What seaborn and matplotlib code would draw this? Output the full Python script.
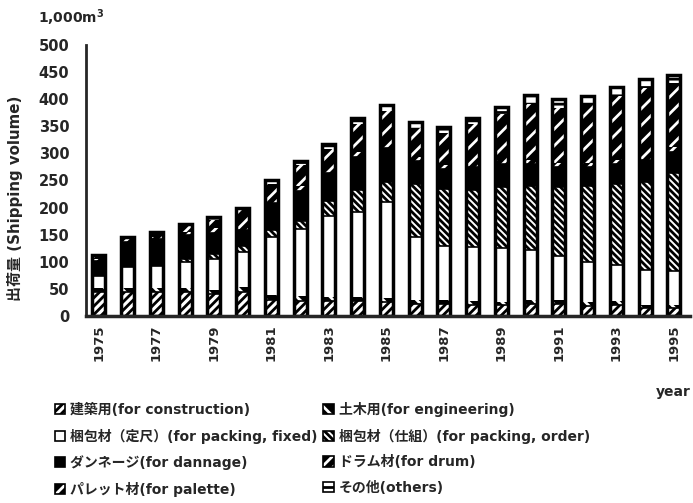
import numpy as np
import pandas as pd
import matplotlib
matplotlib.use('Agg')
import matplotlib.pyplot as plt
import matplotlib.patches as mpatches
from matplotlib.legend_handler import HandlerTuple
import seaborn as sns

# ---------------------------------------------------------
# DATA (1,000 m3)
# ---------------------------------------------------------
years = [str(y) for y in range(1975, 1996)]
construction = [44, 44, 44, 44, 40, 44, 30, 28, 27, 27, 25, 22, 22, 20, 20, 22, 22, 19, 20, 15, 14]
engineering = [8, 8, 8, 8, 8, 10, 9, 8, 8, 8, 8, 8, 8, 7, 6, 8, 8, 7, 8, 6, 6]
packing_fixed = [22, 38, 40, 48, 58, 65, 107, 124, 150, 157, 177, 116, 100, 100, 100, 92, 80, 74, 66, 63, 63]
packing_order = [0, 0, 0, 5, 8, 10, 13, 15, 28, 40, 38, 98, 105, 105, 112, 118, 128, 140, 150, 163, 180]
dannage = [28, 46, 50, 45, 40, 30, 50, 55, 50, 62, 62, 42, 36, 42, 42, 40, 37, 35, 36, 40, 40]
drum = [3, 4, 4, 5, 8, 8, 10, 10, 8, 8, 8, 8, 8, 8, 8, 8, 8, 8, 8, 8, 8]
palette = [4, 4, 6, 12, 15, 28, 25, 38, 38, 52, 60, 52, 58, 72, 84, 104, 101, 108, 118, 125, 118]
others = [3, 2, 3, 3, 6, 5, 7, 8, 9, 12, 12, 12, 11, 12, 14, 16, 16, 15, 16, 17, 15]

labels = ['建築用(for construction)', '土木用(for engineering)',
          '梱包材（定尺）(for packing, fixed)', '梱包材（仕組）(for packing, order)',
          'ダンネージ(for dannage)', 'ドラム材(for drum)',
          'パレット材(for palette)', 'その他(others)']
series = [construction, engineering, packing_fixed, packing_order,
          dannage, drum, palette, others]
# face colour, hatch colour, hatch pattern for each segment
faces = ['white', 'black', 'white', 'white', 'black', 'black', 'black', 'white']
hcols = ['black', 'white', 'black', 'black', 'black', 'white', 'white', 'black']
hatches = ['////', '\\\\', None, '\\\\\\\\\\', None, '///', '//', '--']

# ---------------------------------------------------------
# STYLE
# ---------------------------------------------------------
sns.set_style('white')
plt.rcParams['font.family'] = ['DejaVu Sans', 'Noto Sans CJK JP']
plt.rcParams['font.weight'] = 'bold'
plt.rcParams['hatch.linewidth'] = 2.0

fig = plt.figure(figsize=(6.93, 5.03), dpi=100)
ax = fig.add_axes([86 / 693, 1 - 316 / 503, 604 / 693, 271 / 503])

df = pd.DataFrame(dict(zip(labels, series)), index=years)
cum = df.cumsum(axis=1)

# stacked bars: draw cumulative totals from the top segment down
for lab, fc, hc, h in reversed(list(zip(labels, faces, hcols, hatches))):
    lw = 1.2 if hc == 'black' else 0
    sns.barplot(x=years, y=cum[lab].values, color=fc, saturation=1,
                width=0.45, edgecolor=hc, linewidth=lw, hatch=h, ax=ax)

# heavy outline round each bar
sns.barplot(x=years, y=cum[labels[-1]].values, fill=False, saturation=1,
            width=0.45, edgecolor='black', linewidth=2.5, ax=ax)

ax.set_xlim(-0.45, 20.56)
ax.set_ylim(0, 500)
ax.set_yticks(np.arange(0, 501, 50))
ax.set_xticks(range(len(years)))
ax.set_xticklabels([y if i % 2 == 0 else '' for i, y in enumerate(years)],
                   rotation=90, fontsize=9.5, fontweight='bold')
ax.tick_params(axis='y', direction='in', length=6, width=1.5, pad=12, labelsize=10.5)
ax.tick_params(axis='x', direction='out', length=0, pad=6)
for t in ax.get_yticklabels():
    t.set_fontweight('bold')

sns.despine(ax=ax)
ax.spines['left'].set_linewidth(2)
ax.spines['bottom'].set_linewidth(2.5)

ax.set_ylabel('出荷量 (Shipping volume)', fontsize=10.8, fontweight='bold')
ax.yaxis.set_label_coords(-0.105, 0.435)

fig.text(38 / 693, 1 - 18 / 503, '1,000m$^\\mathbf{3}$', fontsize=10,
         fontweight='bold', va='center', ha='left')
fig.text(691 / 693, 1 - 392 / 503, 'year', fontsize=10,
         fontweight='bold', va='center', ha='right')

# legend: two columns, filled column by column; each key gets a black frame
handles = [(mpatches.Patch(facecolor=fc, edgecolor=hc, hatch=h, linewidth=0),
            mpatches.Patch(fill=False, edgecolor='black', linewidth=1.2))
           for fc, hc, h in zip(faces, hcols, hatches)]
order = [0, 2, 4, 6, 1, 3, 5, 7]
fig.legend([handles[i] for i in order], [labels[i] for i in order],
           handler_map={tuple: HandlerTuple(ndivide=1, pad=0)},
           loc='upper left', bbox_to_anchor=(55 / 693, 1 - 402 / 503),
           ncol=2, frameon=False, borderpad=0, borderaxespad=0,
           handlelength=0.75, handleheight=0.75, handletextpad=0.35,
           labelspacing=0.84, columnspacing=0.4, prop={'weight': 'bold', 'size': 10})

fig.savefig('out.png', dpi=100)
